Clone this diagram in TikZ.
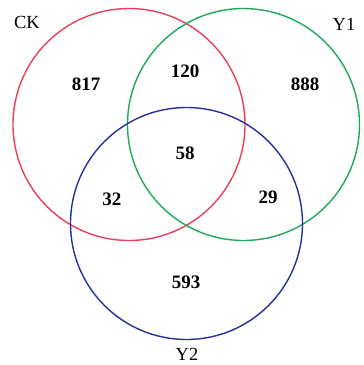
\documentclass[tikz,border=0pt]{standalone}
\usepackage{fontspec}
\setmainfont{Liberation Serif}
\definecolor{ckred}{RGB}{232,64,92}
\definecolor{yagreen}{RGB}{30,168,90}
\definecolor{ybblue}{RGB}{40,46,155}
\begin{document}
\begin{tikzpicture}[x=1pt,y=-1pt,
  ring/.style={draw, line width=1.4pt, circle, minimum size=232pt, inner sep=0pt},
  lab/.style={font=\fontsize{18.5}{18.5}\selectfont, inner sep=0pt},
  num/.style={font=\fontsize{19}{19}\selectfont\bfseries, inner sep=0pt}]
\useasboundingbox (0,0) rectangle (364,365);
\node[ring, ckred] (ck) at (129,124.5) {};
\node[ring, yagreen] (y1) at (243.5,124.5) {};
\node[ring, ybblue] (y2) at (186.5,223.5) {};
\node[lab] (lck) at (27,22) {CK};
\node[lab] (ly1) at (344,24) {Y1};
\node[lab] (ly2) at (187,354) {Y2};
\node[num] (n817) at (86,84) {817};
\node[num] (n120) at (185,71) {120};
\node[num] (n888) at (305,84) {888};
\node[num] (n58) at (185,153) {58};
\node[num] (n32) at (112,199) {32};
\node[num] (n29) at (268,197) {29};
\node[num] (n593) at (186,282) {593};
\end{tikzpicture}
\end{document}
